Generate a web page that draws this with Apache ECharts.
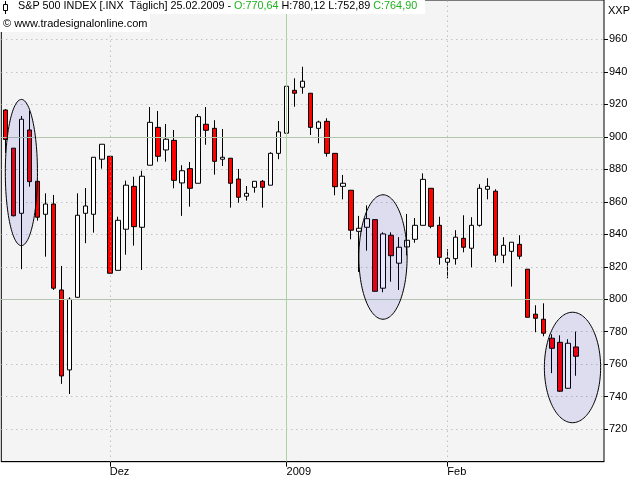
<!DOCTYPE html>
<html><head><meta charset="utf-8">
<script src="https://cdn.jsdelivr.net/npm/echarts@6/dist/echarts.min.js"></script>
<style>html,body{margin:0;padding:0;background:#fff}#c{width:640px;height:480px}</style>
</head><body><div id="c"></div>
<script>
const dates = [
'11.11.2008','12.11.2008','13.11.2008','14.11.2008','17.11.2008','18.11.2008','19.11.2008','20.11.2008','21.11.2008','24.11.2008','25.11.2008','26.11.2008','28.11.2008',
'01.12.2008','02.12.2008','03.12.2008','04.12.2008','05.12.2008','08.12.2008','09.12.2008','10.12.2008','11.12.2008','12.12.2008','15.12.2008','16.12.2008','17.12.2008','18.12.2008','19.12.2008','22.12.2008','23.12.2008','24.12.2008','26.12.2008','29.12.2008','30.12.2008','31.12.2008',
'02.01.2009','05.01.2009','06.01.2009','07.01.2009','08.01.2009','09.01.2009','12.01.2009','13.01.2009','14.01.2009','15.01.2009','16.01.2009','20.01.2009','21.01.2009','22.01.2009','23.01.2009','26.01.2009','27.01.2009','28.01.2009','29.01.2009','30.01.2009',
'02.02.2009','03.02.2009','04.02.2009','05.02.2009','06.02.2009','09.02.2009','10.02.2009','11.02.2009','12.02.2009','13.02.2009','17.02.2009','18.02.2009','19.02.2009','20.02.2009','23.02.2009','24.02.2009','25.02.2009'
];
const open = [
916.5, 893, 852.9, 904.2, 872.6, 852.3, 858.6, 805.7, 756.5, 801.2, 852.9, 852.3, 886.2,
888, 817.8, 843.1, 869.5, 844.3, 882.5, 905.8, 891.9, 897.8, 871.6, 880.4, 871.4, 907.7, 905.2, 886.2, 886.8, 874, 863.4, 868.9, 872.6, 870.2, 889.8,
902.2, 928.6, 930.5, 926.8, 905.2, 909.5, 889.8, 869.5, 867.1, 841.8, 844.3, 849, 806.8, 839.4, 822.2, 832.2, 836.9, 845.5, 868.3, 845.5,
822.8, 825, 837.5, 831.4, 845.5, 867.7, 866.5, 827.1, 829.5, 833.8, 818.5, 790.8, 787.7, 776, 773.5, 745.2, 770.64
];
const high = [
917, 893, 912.8, 916, 873, 865.2, 864.2, 820.5, 801.2, 865.2, 868.5, 887.4, 895.4,
888, 850.8, 873, 875.4, 879.1, 918.3, 915.9, 907.9, 904.2, 882.5, 884.5, 914, 918.3, 910.2, 904.8, 886.8, 880.2, 869.7, 872.6, 873.4, 890.5, 909.7,
934.3, 936, 943.1, 926.8, 909.9, 911.4, 889.8, 876.5, 867.1, 851.3, 857.8, 849, 841.2, 841.2, 838.2, 852.5, 850, 877.5, 868.3, 850.8,
830.8, 842.5, 851.7, 850.5, 870.8, 874.5, 867.7, 838.2, 835.1, 839.4, 818.5, 796.3, 797.5, 778.5, 777.8, 775.4, 780.12
];
const low = [
890, 851, 818.5, 869.3, 848.4, 826.2, 805.7, 747.9, 741.7, 801, 834.5, 841, 880.4,
816, 817.8, 827.4, 833, 818, 882.5, 884.7, 884.7, 868.3, 851.3, 857, 871.4, 895.1, 876.7, 882, 856.4, 859.4, 860.7, 865.6, 856.4, 870.2, 886.2,
898.5, 918.5, 926.5, 901.1, 896, 887.8, 864, 861.5, 836.9, 816.8, 829.9, 804.9, 804.3, 810.8, 805.7, 827, 834.8, 845.5, 843.7, 821.3,
812.9, 821.3, 828.9, 819.7, 844.7, 861.5, 822.8, 822.2, 807.8, 824.6, 788.9, 779.7, 777.2, 754.5, 743, 745, 752.89
];
const close = [
898.4, 851.4, 910.8, 872.4, 850.5, 858.6, 806.8, 752.8, 800, 851.7, 857.4, 887.4, 895.4,
816, 848.6, 870.2, 844.7, 875.7, 908.9, 888, 898.5, 873.2, 879.1, 868.3, 912.4, 904, 884.9, 887.4, 871.4, 862.8, 865.2, 872.6, 868.9, 889.8, 903,
931.1, 926.8, 934.2, 905.8, 909.1, 889.8, 869.3, 871.4, 842.5, 843.7, 849.6, 804.9, 840.2, 826.8, 832, 836.3, 845.5, 873.8, 844.9, 825.8,
825.2, 838.2, 832, 845.5, 868.3, 869.5, 827.1, 833.2, 835.1, 826.5, 788.9, 788.3, 779.1, 769.8, 743.4, 772.9, 764.90
];
const monthTickDates = ['01.12.2008', '02.01.2009', '02.02.2009'];
const monthTickLabels = ['Dez', '2009', 'Feb'];
const yTickValues = [720, 740, 760, 780, 800, 820, 840, 860, 880, 900, 920, 940, 960];
const solidPriceLines = [800, 900];
// highlighted zones: centre bar index, centre price, half width (bars), half height (points)
const zoneCenterBar = [2, 47, 70.58];
const zoneCenterPrice = [878, 826, 758];
const zoneHalfBars = [2.0, 3.0, 3.5];
const zoneHalfPoints = [45, 38.3, 34];

const FONT = 'Liberation Sans';
const padCats = ['\u2002', '\u2003', '\u2004'];
const categories = dates.concat(padCats);
const candles = dates.map((d, i) => [open[i], close[i], low[i], high[i]]);
const zones = zoneCenterBar.map((c, i) => [Math.round(c), zoneCenterPrice[i], c, zoneHalfBars[i], zoneHalfPoints[i]]);
const fmt = v => v.toFixed(2).replace('.', ',');
const n = dates.length - 1;
const headerText = 'S&P 500 INDEX [.INX  Täglich] ' + dates[n] + ' - {g|O:' + fmt(open[n]) + '} H:' + fmt(high[n]) +
  ' L:' + fmt(low[n]) + ' {g|C:' + fmt(close[n]) + '}';

const monthIdx = monthTickDates.map(d => dates.indexOf(d));
const chart = echarts.init(document.getElementById('c'), null, {renderer: 'canvas'});
chart.setOption({
  animation: false,
  backgroundColor: '#ffffff',
  grid: {left: 1.3, right: 36, top: 0, bottom: 18.3, show: true, backgroundColor: '#f4f4f4',
         borderColor: '#000', borderWidth: 1, containLabel: false},
  xAxis: {
    type: 'category', data: categories, boundaryGap: true,
    axisLine: {show: true, lineStyle: {color: '#000', width: 1}},
    axisTick: {show: true, alignWithLabel: true, length: 5, lineStyle: {color: '#000'},
               interval: (i) => monthIdx.indexOf(i) >= 0},
    axisLabel: {interval: (i) => monthIdx.indexOf(i) >= 0, align: 'left', margin: 5,
                fontFamily: FONT, fontSize: 11, color: '#000',
                formatter: (v) => { const k = monthTickDates.indexOf(v); return k >= 0 ? monthTickLabels[k] : ''; }},
    splitLine: {show: false}
  },
  yAxis: {
    type: 'value', position: 'right', min: 700, max: 984.2, interval: 20, scale: true,
    axisLine: {show: false},
    axisTick: {show: true, length: 4, inside: false, lineStyle: {color: '#000'}, customValues: yTickValues},
    axisLabel: {margin: 5, fontFamily: FONT, fontSize: 11, color: '#000', customValues: yTickValues,
                formatter: (v) => yTickValues.indexOf(v) >= 0 ? String(v) : ''},
    splitLine: {show: true, lineStyle: {color: '#a8a8a8', type: [1, 4], width: 1}}
  },
  series: [
    {
      type: 'line', data: [], z: 1, silent: true,
      markLine: {
        silent: true, symbol: ['none', 'none'], label: {show: false}, animation: false,
        data: solidPriceLines.map(v => ({yAxis: v, lineStyle: {color: '#b2c6ae', type: 'solid', width: 1}}))
          .concat([
            {xAxis: monthTickDates[0], lineStyle: {color: '#a8a8a8', type: [1, 4], width: 1}},
            {xAxis: monthTickDates[1], lineStyle: {color: '#a9d2a1', type: 'solid', width: 1}},
            {xAxis: monthTickDates[2], lineStyle: {color: '#a8a8a8', type: [1, 4], width: 1}}
          ])
      }
    },
    {
      type: 'candlestick', data: candles, z: 3, barWidth: 5,
      itemStyle: {color: '#ffffff', color0: '#ff0000', borderColor: '#000', borderColor0: '#000', borderWidth: 1}
    },
    {
      type: 'custom', data: zones, z: 5, silent: true, clip: false,
      encode: {x: 0, y: 1},
      renderItem: function (params, api) {
        const cb = api.value(2), cy = api.value(1), hb = api.value(3), hp = api.value(4);
        const base = Math.floor(cb);
        const p0 = api.coord([base, cy]);
        const p1 = api.coord([base + 1, cy]);
        const step = p1[0] - p0[0];
        const cx = p0[0] + (cb - base) * step;
        const top = api.coord([base, cy + hp]);
        const ry = Math.abs(top[1] - p0[1]);
        const rx = hb * step;
        const pts = [];
        for (let k = 0; k < 120; k++) {
          const t = k / 120 * Math.PI * 2;
          pts.push([cx + rx * Math.cos(t), p0[1] + ry * Math.sin(t)]);
        }
        return {type: 'polygon', shape: {points: pts},
                style: {fill: 'rgba(20,20,200,0.1)', stroke: '#000', lineWidth: 1}};
      }
    }
  ],
  graphic: [
    {type: 'rect', z: 100, shape: {x: 0, y: 0, width: 425, height: 14}, style: {fill: '#fff'}},
    {type: 'rect', z: 100, shape: {x: 0, y: 14, width: 150, height: 18}, style: {fill: '#fff'}},
    {type: 'line', z: 101, shape: {x1: 5.5, y1: 1, x2: 5.5, y2: 14}, style: {stroke: '#000', lineWidth: 1}},
    {type: 'rect', z: 102, shape: {x: 3.5, y: 4.5, width: 4, height: 6}, style: {fill: '#fff', stroke: '#000', lineWidth: 1}},
    {type: 'text', z: 103, left: 18, top: 1,
     style: {text: headerText, fontFamily: FONT, fontSize: 10.8, fill: '#000',
             rich: {g: {fill: '#1db31d', fontFamily: FONT, fontSize: 10.8}}}},
    {type: 'text', z: 103, left: 3, top: 18,
     style: {text: '\u00a9 www.tradesignalonline.com', fontFamily: FONT, fontSize: 11, fill: '#000'}},
    {type: 'text', z: 103, left: 608, top: 5,
     style: {text: 'XXP', fontFamily: FONT, fontSize: 11, fill: '#000'}}
  ]
});
</script>
</body></html>
